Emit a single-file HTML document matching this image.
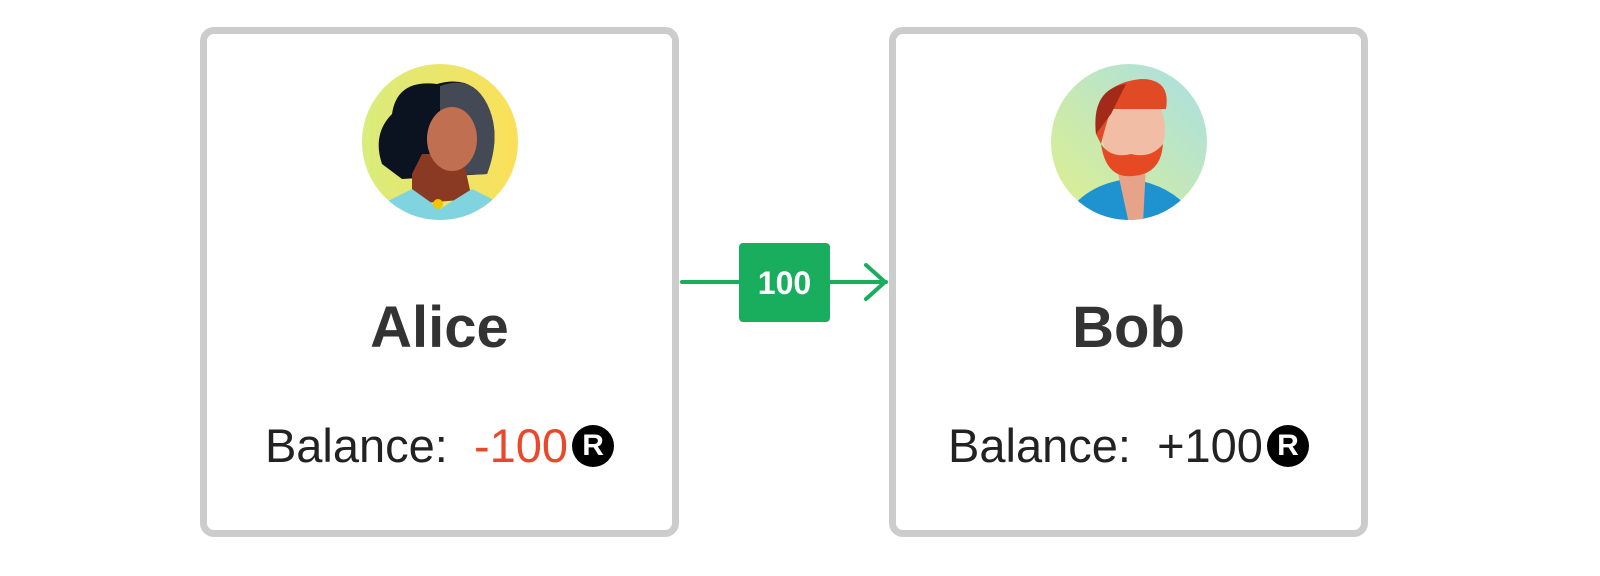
<!DOCTYPE html>
<html><head><meta charset="utf-8"><style>
body{margin:0;width:1600px;height:576px;background:#fff;position:relative;overflow:hidden;font-family:"Liberation Sans",sans-serif}
.card{position:absolute;top:27px;width:465px;height:496px;border:7px solid #cccccc;border-radius:14px;background:#fff}
.name{position:absolute;left:0;right:0;top:260px;text-align:center;font-size:58px;font-weight:bold;color:#333}
.bal{position:absolute;left:0;right:0;top:384px;text-align:center;font-size:47px;color:#222;white-space:nowrap}
.r{display:inline-block;width:42px;height:42px;border-radius:50%;background:#000;color:#fff;font-weight:bold;font-size:30px;line-height:42px;text-align:center;vertical-align:7px;margin-left:4px}
</style></head><body>
<div class="card" style="left:200px">
<svg style="position:absolute;left:155px;top:30px" width="156" height="156" viewBox="0 0 156 156">
<defs><linearGradient id="ga" x1="0" x2="1"><stop offset="0" stop-color="#d9ec7c"/><stop offset="1" stop-color="#fbe058"/></linearGradient>
<clipPath id="ca"><circle cx="78" cy="78" r="78"/></clipPath></defs>
<g clip-path="url(#ca)"><rect width="156" height="156" fill="url(#ga)"/>
<path d="M20 100 Q10 70 30 50 Q35 15 75 20 Q110 10 125 40 Q140 70 125 110 L40 115Z" fill="#0b1220"/>
<path d="M78 22 Q110 10 125 40 Q140 70 125 110 L78 112Z" fill="#444a55"/>
<path d="M50 110 L60 90 L100 90 L110 135 L50 140Z" fill="#8a3a22"/>
<ellipse cx="90" cy="75" rx="25" ry="32" fill="#c07050"/>
<path d="M10 145 L50 125 L78 145 L110 125 L150 145 L150 160 L10 160Z" fill="#7fd4e0"/>
<circle cx="76" cy="140" r="5" fill="#f5c400"/></g></svg>
<div class="name">Alice</div>
<div class="bal">Balance:&nbsp; <span style="color:#e8492a">-100</span><span class="r">R</span></div>
</div>
<div class="card" style="left:889px">
<svg style="position:absolute;left:155px;top:30px" width="156" height="156" viewBox="0 0 156 156">
<defs><linearGradient id="gb" x1="0" y1="1" x2="1" y2="0"><stop offset="0" stop-color="#e0f08a"/><stop offset="1" stop-color="#a8dfe6"/></linearGradient>
<clipPath id="cb"><circle cx="78" cy="78" r="78"/></clipPath></defs>
<g clip-path="url(#cb)"><rect width="156" height="156" fill="url(#gb)"/>
<path d="M10 160 Q30 120 78 115 Q125 120 150 160Z" fill="#1f92d0"/>
<path d="M65 100 L95 100 L92 160 L78 160Z" fill="#e6a38a"/>
<ellipse cx="82" cy="65" rx="32" ry="40" fill="#f2bda5"/>
<path d="M50 80 Q55 115 82 112 Q110 110 112 80 Q100 95 80 90 Q60 95 50 80Z" fill="#e64a25"/>
<path d="M45 70 Q40 20 90 15 Q120 15 115 45 L60 45 Q55 60 50 80Z" fill="#e04a25"/>
<path d="M45 70 Q40 25 75 20 L60 50 Z" fill="#a32a18"/></g></svg>
<div class="name">Bob</div>
<div class="bal">Balance:&nbsp; +100<span class="r">R</span></div>
</div>
<svg style="position:absolute;left:0;top:0" width="1600" height="576">
<line x1="682" y1="282" x2="886" y2="282" stroke="#18ae5e" stroke-width="4" stroke-linecap="round"/>
<polyline points="866,265 885,282 866,299" fill="none" stroke="#18ae5e" stroke-width="4" stroke-linecap="round" stroke-linejoin="round"/>
<rect x="739" y="243" width="91" height="79" rx="4" fill="#18ae5e"/>
<text x="784.5" y="294" text-anchor="middle" font-family="Liberation Sans, sans-serif" font-weight="bold" font-size="32" fill="#fff">100</text>
</svg>
</body></html>
